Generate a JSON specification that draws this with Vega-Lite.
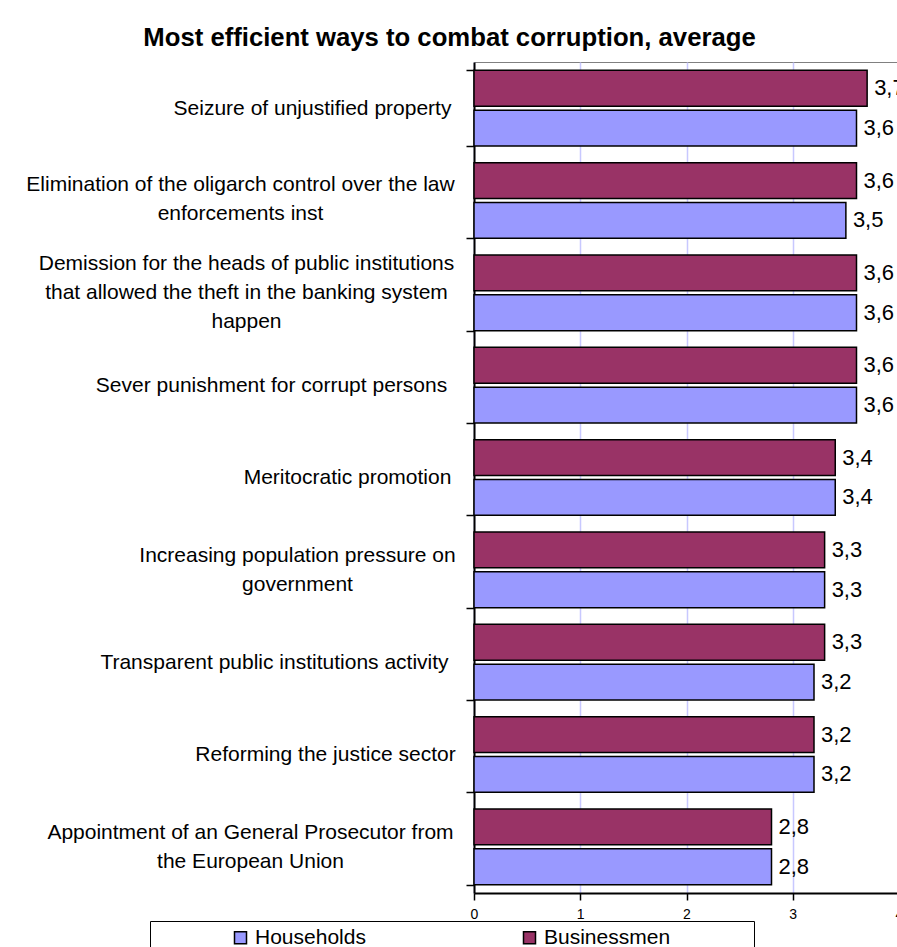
{
  "$schema": "https://vega.github.io/schema/vega-lite/v6.json",
  "autosize": "none",
  "width": 425,
  "height": 831,
  "padding": {"left": 474, "top": 62, "right": 0, "bottom": 54},
  "background": "white",
  "title": {
    "text": "Most efficient ways to combat corruption, average",
    "font": "Liberation Sans",
    "fontSize": 25.7,
    "fontWeight": "bold",
    "color": "black",
    "anchor": "middle",
    "frame": "group",
    "dx": -237,
    "offset": -21,
    "baseline": "alphabetic"
  },
  "data": {
    "values": [
      {"category": "Seizure of unjustified property", "series": "Businessmen", "value": 3.7},
      {"category": "Seizure of unjustified property", "series": "Households", "value": 3.6},
      {"category": "Elimination of the oligarch control over the law enforcements inst", "series": "Businessmen", "value": 3.6},
      {"category": "Elimination of the oligarch control over the law enforcements inst", "series": "Households", "value": 3.5},
      {"category": "Demission for the heads of public institutions that allowed the theft in the banking system happen", "series": "Businessmen", "value": 3.6},
      {"category": "Demission for the heads of public institutions that allowed the theft in the banking system happen", "series": "Households", "value": 3.6},
      {"category": "Sever punishment for corrupt persons", "series": "Businessmen", "value": 3.6},
      {"category": "Sever punishment for corrupt persons", "series": "Households", "value": 3.6},
      {"category": "Meritocratic promotion", "series": "Businessmen", "value": 3.4},
      {"category": "Meritocratic promotion", "series": "Households", "value": 3.4},
      {"category": "Increasing population pressure on government", "series": "Businessmen", "value": 3.3},
      {"category": "Increasing population pressure on government", "series": "Households", "value": 3.3},
      {"category": "Transparent public institutions activity", "series": "Businessmen", "value": 3.3},
      {"category": "Transparent public institutions activity", "series": "Households", "value": 3.2},
      {"category": "Reforming the justice sector", "series": "Businessmen", "value": 3.2},
      {"category": "Reforming the justice sector", "series": "Households", "value": 3.2},
      {"category": "Appointment of an General Prosecutor from the European Union", "series": "Businessmen", "value": 2.8},
      {"category": "Appointment of an General Prosecutor from the European Union", "series": "Households", "value": 2.8}
    ]
  },
  "encoding": {
    "y": {
      "field": "category",
      "type": "nominal",
      "sort": null,
      "scale": {"paddingInner": 0.18, "paddingOuter": 0.09},
      "axis": {
        "title": null,
        "domainColor": "black",
        "domainWidth": 2,
        "tickColor": "black",
        "tickSize": 8,
        "tickWidth": 1.5,
        "tickBand": "extent",
        "labelFont": "Liberation Sans",
        "labelFontSize": 21,
        "labelColor": "black",
        "labelAlign": "center",
        "labelBaseline": "middle",
        "labelPadding": 166,
        "labelLineHeight": 29,
        "labelLimit": 1000,
        "labelExpr": "datum.value == 'Elimination of the oligarch control over the law enforcements inst' ? ['Elimination of the oligarch control over the law', 'enforcements inst'] : datum.value == 'Demission for the heads of public institutions that allowed the theft in the banking system happen' ? ['Demission for the heads of public institutions', 'that allowed the theft in the banking system', 'happen'] : datum.value == 'Increasing population pressure on government' ? ['Increasing population pressure on', 'government'] : datum.value == 'Appointment of an General Prosecutor from the European Union' ? ['Appointment of an General Prosecutor from', 'the European Union'] : datum.label",
        "encoding": {
          "labels": {
            "dx": {"value": {"signal": "[12, -60, -54, -29, 47, -3, -26, 25, -50][indexof(['Seizure of unjustified property', 'Elimination of the oligarch control over the law enforcements inst', 'Demission for the heads of public institutions that allowed the theft in the banking system happen', 'Sever punishment for corrupt persons', 'Meritocratic promotion', 'Increasing population pressure on government', 'Transparent public institutions activity', 'Reforming the justice sector', 'Appointment of an General Prosecutor from the European Union'], datum.value)]"}},
            "dy": {"value": {"signal": "[0, -16, -29, 0, 0, -14.5, 0, 0, -14.5][indexof(['Seizure of unjustified property', 'Elimination of the oligarch control over the law enforcements inst', 'Demission for the heads of public institutions that allowed the theft in the banking system happen', 'Sever punishment for corrupt persons', 'Meritocratic promotion', 'Increasing population pressure on government', 'Transparent public institutions activity', 'Reforming the justice sector', 'Appointment of an General Prosecutor from the European Union'], datum.value)]"}}
          }
        }
      }
    },
    "yOffset": {
      "field": "series",
      "type": "nominal",
      "sort": ["Businessmen", "Households"],
      "scale": {"paddingInner": 0.1, "paddingOuter": 0}
    },
    "x": {
      "field": "value",
      "type": "quantitative",
      "scale": {"domain": [0, 4], "nice": false},
      "axis": {
        "values": [0, 1, 2, 3, 4],
        "title": null,
        "grid": true,
        "gridColor": "#c8c8ff",
        "gridWidth": 1.5,
        "domainColor": "black",
        "domainWidth": 2,
        "tickColor": "black",
        "tickSize": 7,
        "tickWidth": 1.5,
        "labelFont": "Liberation Sans",
        "labelFontSize": 14,
        "labelColor": "black",
        "labelPadding": 7,
        "labelFlush": false
      }
    }
  },
  "layer": [
    {
      "mark": {"type": "bar", "stroke": "black", "strokeWidth": 1.5},
      "encoding": {
        "color": {
          "field": "series",
          "type": "nominal",
          "scale": {"domain": ["Households", "Businessmen"], "range": ["#9999FF", "#993366"]},
          "legend": {
            "title": " ",
            "titleOrient": "left",
            "titleFontSize": 1,
            "titlePadding": 74,
            "orient": "none",
            "legendX": -324,
            "legendY": 859,
            "direction": "horizontal",
            "columns": 2,
            "columnPadding": 153,
            "padding": 6,
            "strokeColor": "black",
            "fillColor": "white",
            "symbolType": "square",
            "symbolSize": 144,
            "symbolStrokeColor": "black",
            "symbolStrokeWidth": 1.5,
            "symbolOpacity": 1,
            "labelFont": "Liberation Sans",
            "labelFontSize": 21,
            "labelColor": "black",
            "labelOffset": 4,
            "labelLimit": 400,
            "labelExpr": "datum.label == 'Businessmen' ? 'Businessmen\u2003\u2003\u2003\u2002\u2009\u200b' : datum.label"
          }
        }
      }
    },
    {
      "mark": {"type": "text", "align": "left", "baseline": "middle", "dx": 7, "font": "Liberation Sans", "fontSize": 22, "color": "black"},
      "encoding": {
        "text": {"field": "value", "type": "quantitative", "format": ".1f"}
      }
    }
  ],
  "config": {
    "view": {"stroke": "#808080", "strokeWidth": 1},
    "locale": {"number": {"decimal": ",", "thousands": ".", "grouping": [3], "currency": ["", " €"]}}
  }
}
